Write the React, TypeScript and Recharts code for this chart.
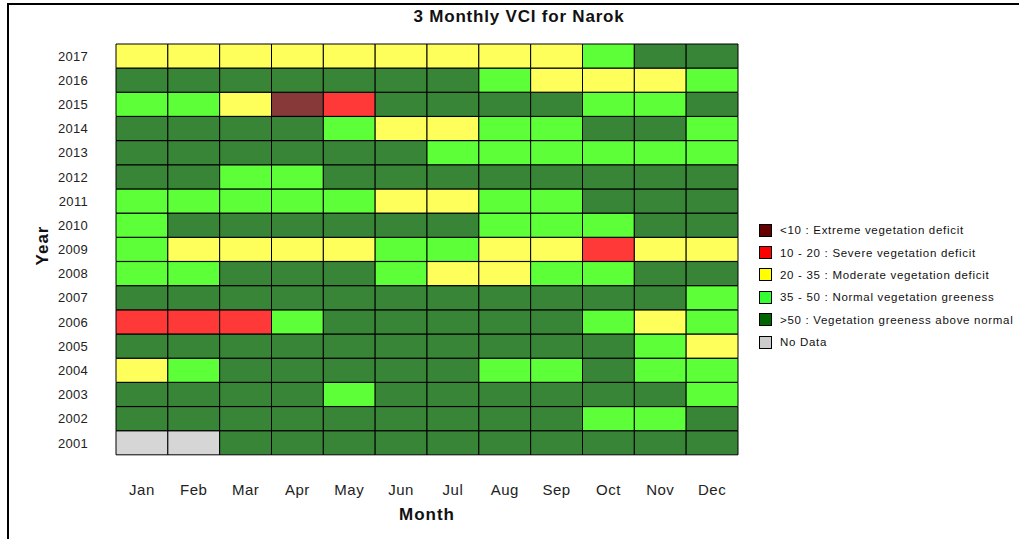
import { Bar, BarChart, Cell, Legend, XAxis, YAxis } from "recharts";

// VCI class per month (Jan..Dec) for each year
// E: <10, S: 10-20, M: 20-35, N: 35-50, A: >50, X: no data
const months = ["Jan", "Feb", "Mar", "Apr", "May", "Jun", "Jul", "Aug", "Sep", "Oct", "Nov", "Dec"];
const years = ["2001", "2002", "2003", "2004", "2005", "2006", "2007", "2008", "2009", "2010", "2011", "2012", "2013", "2014", "2015", "2016", "2017"];

const r2001 = ["X", "X", "A", "A", "A", "A", "A", "A", "A", "A", "A", "A"];
const r2002 = ["A", "A", "A", "A", "A", "A", "A", "A", "A", "N", "N", "A"];
const r2003 = ["A", "A", "A", "A", "N", "A", "A", "A", "A", "A", "A", "N"];
const r2004 = ["M", "N", "A", "A", "A", "A", "A", "N", "N", "A", "N", "N"];
const r2005 = ["A", "A", "A", "A", "A", "A", "A", "A", "A", "A", "N", "M"];
const r2006 = ["S", "S", "S", "N", "A", "A", "A", "A", "A", "N", "M", "N"];
const r2007 = ["A", "A", "A", "A", "A", "A", "A", "A", "A", "A", "A", "N"];
const r2008 = ["N", "N", "A", "A", "A", "N", "M", "M", "N", "N", "A", "A"];
const r2009 = ["N", "M", "M", "M", "M", "N", "N", "M", "M", "S", "M", "M"];
const r2010 = ["N", "A", "A", "A", "A", "A", "A", "N", "N", "N", "A", "A"];
const r2011 = ["N", "N", "N", "N", "N", "M", "M", "N", "N", "A", "A", "A"];
const r2012 = ["A", "A", "N", "N", "A", "A", "A", "A", "A", "A", "A", "A"];
const r2013 = ["A", "A", "A", "A", "A", "A", "N", "N", "N", "N", "N", "N"];
const r2014 = ["A", "A", "A", "A", "N", "M", "M", "N", "N", "A", "A", "N"];
const r2015 = ["N", "N", "M", "E", "S", "A", "A", "A", "A", "N", "N", "A"];
const r2016 = ["A", "A", "A", "A", "A", "A", "A", "N", "M", "M", "M", "N"];
const r2017 = ["M", "M", "M", "M", "M", "M", "M", "M", "M", "N", "A", "A"];

const rows = [r2001, r2002, r2003, r2004, r2005, r2006, r2007, r2008, r2009, r2010, r2011, r2012, r2013, r2014, r2015, r2016, r2017];

const classCodes = ["E", "S", "M", "N", "A", "X"];
const classLabels = [
  "<10 : Extreme vegetation deficit",
  "10 - 20 : Severe vegetation deficit",
  "20 - 35 : Moderate vegetation deficit",
  "35 - 50 : Normal vegetation greeness",
  ">50 : Vegetation greeness above normal",
  "No Data",
];
const cellColors = ["#873838", "#ff3838", "#ffff5c", "#5cff38", "#388538", "#d6d6d6"];
const legendColors = ["#660000", "#ff0000", "#ffff00", "#33ff33", "#006600", "#cccccc"];

const FONT = "'Liberation Sans', Arial, sans-serif";

const chartData = years.map((year) => {
  const row: any = { year };
  months.forEach((_, m) => {
    row["m" + m] = 1;
  });
  return row;
});

const colorFor = (code: string) => cellColors[classCodes.indexOf(code)];

function LegendBox() {
  return (
    <div style={{ fontFamily: FONT }}>
      {classLabels.map((label, i) => (
        <div
          key={label}
          style={{ display: "flex", alignItems: "center", height: 22.4, whiteSpace: "nowrap" }}
        >
          <span
            style={{
              display: "inline-block",
              width: 11,
              height: 11,
              background: legendColors[i],
              border: "1px solid #000",
              marginRight: 8,
            }}
          />
          <span style={{ fontSize: 11.5, letterSpacing: 0.7, color: "#111" }}>{label}</span>
        </div>
      ))}
    </div>
  );
}

export default function App() {
  return (
    <div
      style={{
        position: "absolute",
        left: 7,
        top: 3,
        width: 1012,
        height: 536,
        overflow: "hidden",
      }}
    >
      <div
        style={{
          position: "absolute",
          left: 0,
          top: 0,
          width: 1100,
          height: 600,
          borderTop: "2px solid #000",
          borderLeft: "2px solid #000",
        }}
      />
      <div style={{ position: "absolute", left: 1, top: 5 }}>
        <BarChart
          width={1011}
          height={531}
          data={chartData}
          layout="vertical"
          barCategoryGap={0}
          barGap={0}
          margin={{ top: 36, right: 281, bottom: 0, left: 0 }}
          style={{ fontFamily: FONT }}
        >
          <text
            x={511}
            y={10}
            textAnchor="middle"
            dominantBaseline="middle"
            fontSize={17}
            fontWeight="bold"
            letterSpacing={0.8}
            fill="#111"
            fontFamily={FONT}
          >
            3 Monthly VCI for Narok
          </text>
          <XAxis
            type="number"
            domain={[0, 12]}
            ticks={months.map((_, i) => i + 0.5)}
            interval={0}
            tickFormatter={(v: number) => months[Math.floor(v)]}
            axisLine={false}
            tickLine={false}
            tickSize={0}
            tickMargin={29}
            height={84}
            tick={{ fontSize: 15, fill: "#222", letterSpacing: 0.5 }}
            label={{
              value: "Month",
              position: "insideBottom",
              offset: 19,
              style: { fontSize: 17, fontWeight: "bold", fill: "#111", letterSpacing: 1 },
            }}
          />
          <YAxis
            type="category"
            dataKey="year"
            reversed
            width={108}
            axisLine={false}
            tickLine={false}
            tickSize={0}
            tickMargin={28}
            interval={0}
            tick={{ fontSize: 13, fill: "#222", letterSpacing: 0.3 }}
            label={{
              value: "Year",
              angle: -90,
              position: "center",
              dx: -20,
              dy: -4,
              style: { fontSize: 17, fontWeight: "bold", fill: "#111", letterSpacing: 1 },
            }}
          />
          <Legend
            layout="vertical"
            align="center"
            verticalAlign="middle"
            content={() => <LegendBox />}
            wrapperStyle={{ left: 751, top: 211, width: 290 }}
          />
          {months.map((m, mi) => (
            <Bar
              key={m}
              dataKey={"m" + mi}
              stackId="vci"
              stroke="#000"
              strokeWidth={1}
              isAnimationActive={false}
            >
              {years.map((y, yi) => (
                <Cell key={y} fill={colorFor(rows[yi][mi])} />
              ))}
            </Bar>
          ))}
        </BarChart>
      </div>
    </div>
  );
}
